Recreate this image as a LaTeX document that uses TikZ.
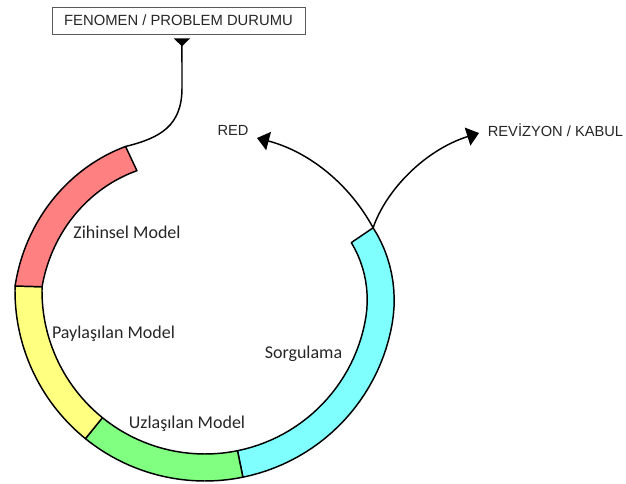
\documentclass[tikz,border=0pt]{standalone}
\usepackage{fontspec}
\setmainfont{Liberation Sans}
\newfontfamily\calibri{Carlito}
\usetikzlibrary{arrows.meta}

\definecolor{segred}{HTML}{FF8080}
\definecolor{segyellow}{HTML}{FFFF80}
\definecolor{seggreen}{HTML}{80FF80}
\definecolor{segcyan}{HTML}{80FFFF}

\tikzset{declare function={rout(\t)=190-0.42*max(0,-181.5-\t)-max(0,\t+10)^2/90; rin(\t)=rout(\t)-27;}}

\begin{document}
\begin{tikzpicture}[x=0.75pt,y=-0.75pt, variable=\t, samples=40,
    seg/.style={draw=black, line width=1.1pt, line join=round},
    phase/.style={font=\calibri\fontsize{13.5}{15}\selectfont, text=black!85, anchor=base, inner sep=0pt},
    tag/.style={font=\fontsize{11}{13}\selectfont, text=black!85, anchor=base, inner sep=0pt},
    flow/.style={line width=1.1pt, -{Triangle[length=9pt,width=14pt]}}]
    \useasboundingbox (0,0) rectangle (626,484);

    % ring
    \draw[seg, fill=segcyan] plot[domain=20.6:-78.5] ({205+rout(\t)*cos(\t)},{291-rout(\t)*sin(\t)})
        -- plot[domain=-78.5:18.3] ({205+rin(\t)*cos(\t)},{291-rin(\t)*sin(\t)}) -- cycle;
    \draw[seg, fill=seggreen] plot[domain=-78.5:-129] ({205+rout(\t)*cos(\t)},{291-rout(\t)*sin(\t)})
        -- plot[domain=-129:-78.5] ({205+rin(\t)*cos(\t)},{291-rin(\t)*sin(\t)}) -- cycle;
    \draw[seg, fill=segyellow] plot[domain=-129:-181.5] ({205+rout(\t)*cos(\t)},{291-rout(\t)*sin(\t)})
        -- plot[domain=-181.5:-129] ({205+rin(\t)*cos(\t)},{291-rin(\t)*sin(\t)}) -- cycle;
    \draw[seg, fill=segred] plot[domain=-181.5:-241.2] ({205+rout(\t)*cos(\t)},{291-rout(\t)*sin(\t)})
        -- plot[domain=-240.5:-181.5] ({205+rin(\t)*cos(\t)},{291-rin(\t)*sin(\t)}) -- cycle;

    \node[phase] (zihinsel) at (127,239) {Zihinsel Model};
    \node[phase] (paylasilan) at (113.5,339) {Paylaşılan Model};
    \node[phase] (uzlasilan) at (187,428.5) {Uzlaşılan Model};
    \node[phase] (sorgulama) at (303.5,359) {Sorgulama};

    \node[draw=black!65, line width=0.6pt, minimum width=189.75pt, minimum height=20.25pt,
        inner sep=0pt, text=black!85, font=\fontsize{11.1}{13}\selectfont] (problem) at (178.5,20.5) {FENOMEN / PROBLEM DURUMU};
    \node[tag] (red) at (233,136) {RED};
    \node[tag] (kabul) at (555.5,137) {REVİZYON / KABUL};

    \coordinate (cyantop) at ({205+rout(20.6)*cos(20.6)},{291-rout(20.6)*sin(20.6)});
    \coordinate (redend) at ({205+rout(-241.2)*cos(-241.2)},{291-rout(-241.2)*sin(-241.2)});
    \coordinate (hook) at ([xshift=2.6pt,yshift=-3pt]problem.south);
    \coordinate (redtip) at (257,138);
    \coordinate (kabultip) at (479,133);

    \draw[line width=1.1pt, {Triangle[reversed,length=6pt,width=12pt]}-] (hook) -- (182,88)
        .. controls (182,126) and (160,138) .. (redend);
    \draw[flow] (cyantop) .. controls (350,185) and (310,152) .. (redtip);
    \draw[flow] (cyantop) .. controls (386,190) and (425,150) .. (kabultip);
\end{tikzpicture}
\end{document}
